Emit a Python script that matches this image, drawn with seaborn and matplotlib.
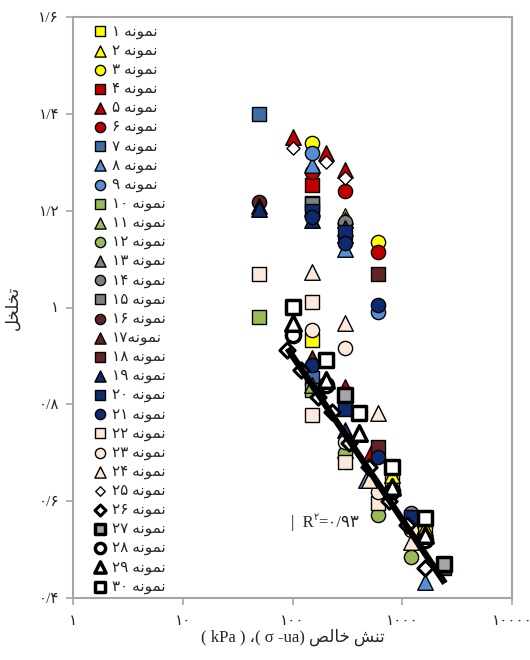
import numpy as np
import pandas as pd
import matplotlib
matplotlib.use('Agg')
import matplotlib.pyplot as plt
import seaborn as sns

# --- Data ---
# net stress (kPa) per sample, samples 1..30
STRESS = [
    [150, 800, 1600],
    [300, 800, 1600],
    [150, 600],
    [150],
    [100, 200, 300, 300, 520],
    [150, 300, 600],
    [50, 150, 150],
    [150, 300, 470, 1600],
    [150, 600],
    [50, 150],
    [150, 300],
    [300, 600, 1200],
    [150, 300, 300],
    [300, 1200],
    [150],
    [50],
    [50, 300, 150],
    [600, 600, 2400],
    [50, 150, 300, 300],
    [150, 300, 300, 1200],
    [150, 300, 600, 600, 150],
    [50, 150, 150, 300, 600],
    [150, 300, 300, 600, 1200],
    [150, 300, 600, 500, 1200],
    [100, 200, 300],
    [90, 120, 170, 230, 330, 500, 750, 1100, 1600],
    [300, 2400],
    [100, 200, 800, 1600],
    [100, 200, 400, 800, 1600],
    [100, 200, 400, 800, 1600],
]
# porosity per sample
POROSITY = [
    [0.933, 0.644, 0.534],
    [1.19, 0.655, 0.545],
    [1.34, 1.135],
    [1.253],
    [1.352, 1.32, 1.284, 0.836, 0.70],
    [1.28, 1.24, 1.115],
    [1.40, 1.215, 0.855],
    [1.295, 1.12, 0.644, 0.433],
    [1.32, 0.99],
    [0.98, 0.83],
    [0.84, 0.705],
    [0.70, 0.571, 0.485],
    [1.205, 1.18, 0.82],
    [1.177, 0.575],
    [1.213],
    [1.218],
    [1.21, 1.165, 0.895],
    [1.07, 0.712, 0.462],
    [1.203, 1.18, 1.15, 0.747],
    [1.20, 1.155, 0.79, 0.567],
    [1.187, 1.133, 1.005, 0.691, 0.881],
    [1.07, 1.011, 0.778, 0.68, 0.596],
    [0.953, 0.916, 0.722, 0.619, 0.54],
    [1.073, 0.968, 0.782, 0.644, 0.516],
    [1.33, 1.30, 1.267],
    [0.912, 0.87, 0.815, 0.785, 0.72, 0.67, 0.60, 0.55, 0.462],
    [0.82, 0.47],
    [0.943, 0.84, 0.62, 0.52],
    [0.968, 0.85, 0.74, 0.63, 0.53],
    [1.001, 0.892, 0.782, 0.671, 0.565],
]

# trend line: porosity = a + b*log10(stress), fitted range
TREND_A = 1.576
TREND_B = -0.338
TREND_RANGE = [90, 2450]
R2_TEXT = '=۰/۹۳'

Y_TICKS = [0.4, 0.6, 0.8, 1.0, 1.2, 1.4, 1.6]
Y_TICK_LABELS = ['۰/۴', '۰/۶', '۰/۸', '۱', '۱/۲', '۱/۴', '۱/۶']
X_TICKS = [1, 10, 100, 1000, 10000]
X_TICK_LABELS = ['۱', '۱۰', '۱۰۰', '۱۰۰۰', '۱۰۰۰۰']

# --- Styles ---
YELLOW, RED, BLUE, LBLUE = '#FFFF00', '#C00000', '#3F6DA8', '#558ED5'
GREEN, GRAY, BROWN, NAVY = '#9BBB59', '#7F7F7F', '#632523', '#0F2A6E'
PEACH, LGRAY, WHITE = '#FDE9D9', '#A6A6A6', '#FFFFFF'
MARKERS = ['s', '^', 'o'] * 4 + ['^', 'o', 's', 'o', '^', 's', '^', 's', 'o',
                                  's', 'o', '^', 'D', 'D', 's', 'o', '^', 's']
COLORS = [YELLOW] * 3 + [RED] * 3 + [BLUE, LBLUE, LBLUE] + [GREEN] * 3 + \
         [GRAY] * 3 + [BROWN] * 3 + [NAVY] * 3 + [PEACH] * 3 + \
         [WHITE, WHITE, LGRAY, WHITE, WHITE, WHITE]
EDGE_W = [1.0] * 24 + [1.0, 2.2, 2.5, 2.5, 2.5, 2.5]
SIZES = {'s': 95, '^': 125, 'o': 105, 'D': 60}

# Arabic presentation forms in visual (left-to-right) order
WORD_SAMPLE = '\uFEEA\uFEE7\uFEEE\uFEE4\uFEE7'           # نمونه
WORD_POROSITY = '\uFEDE\uFEA8\uFEE0\uFEA8\uFE97'          # تخلخل
WORD_STRESS = '\uFEB6\uFEE8\uFE97'                        # تنش
WORD_NET = '\uFEBA\uFEDF\uFE8E\uFEA7'                     # خالص
FA = str.maketrans('0123456789', '۰۱۲۳۴۵۶۷۸۹')


def sample_label(n):
    sep = '' if n == 17 else ' '
    return str(n).translate(FA) + sep + WORD_SAMPLE


sns.set_style('white')
plt.rcParams['font.family'] = ['Liberation Serif', 'DejaVu Sans']

fig = plt.figure(figsize=(5.3, 6.6), dpi=100)
ax = fig.add_axes([73 / 530, 1 - 598 / 660, 439 / 530, 581 / 660])

for i in range(30):
    df = pd.DataFrame({'stress': STRESS[i], 'porosity': POROSITY[i]})
    m = MARKERS[i]
    s = SIZES[m]
    if i == 24:
        s = 45
    sns.scatterplot(data=df, x='stress', y='porosity', marker=m, s=s,
                    color=COLORS[i], edgecolor='black', linewidth=EDGE_W[i],
                    label=sample_label(i + 1), ax=ax, zorder=3 + i * 0.01)

# trend line
tx = np.array(TREND_RANGE, dtype=float)
tx = np.geomspace(tx[0], tx[1], 50)
ax.plot(tx, TREND_A + TREND_B * np.log10(tx), color='black', lw=4.6,
        solid_capstyle='butt', zorder=4)

ax.set_xscale('log')
ax.set_xlim(1, 10000)
ax.set_ylim(0.4, 1.6)
ax.set_xticks(X_TICKS)
ax.set_xticklabels(X_TICK_LABELS, fontsize=11)
ax.set_yticks(Y_TICKS)
ax.set_yticklabels(Y_TICK_LABELS, fontsize=11)
ax.xaxis.set_minor_locator(matplotlib.ticker.NullLocator())
ax.tick_params(axis='both', direction='out', length=5, width=1.2,
               color='#A6A6A6', bottom=True, left=True)
ax.tick_params(axis='x', pad=7)
ax.tick_params(axis='y', pad=5)
for sp in ax.spines.values():
    sp.set_color('#A6A6A6')
    sp.set_linewidth(1.5)
ax.set_xlabel('( kPa ) \u060C( \u03C3 -ua) ' + WORD_NET + ' ' + WORD_STRESS,
              fontsize=12, labelpad=1)
ax.set_ylabel(WORD_POROSITY, fontsize=12, labelpad=12)

# R^2 annotation
t1 = ax.text(96, 0.555, '|  R', fontsize=12, va='center', ha='left')
fig.canvas.draw()
bb = t1.get_window_extent().transformed(ax.transData.inverted())
t2 = ax.text(bb.x1, 0.567, '۲', fontsize=7, va='center', ha='left')
fig.canvas.draw()
bb2 = t2.get_window_extent().transformed(ax.transData.inverted())
ax.text(bb2.x1, 0.555, R2_TEXT, fontsize=12, va='center', ha='left')

leg = ax.legend(loc='upper left', bbox_to_anchor=(0.02, 1.005), frameon=False,
                fontsize=11, labelspacing=0.34, handletextpad=0.25,
                handlelength=1.0, borderpad=0.2, markerscale=0.72)

fig.savefig('out.png', dpi=100)
